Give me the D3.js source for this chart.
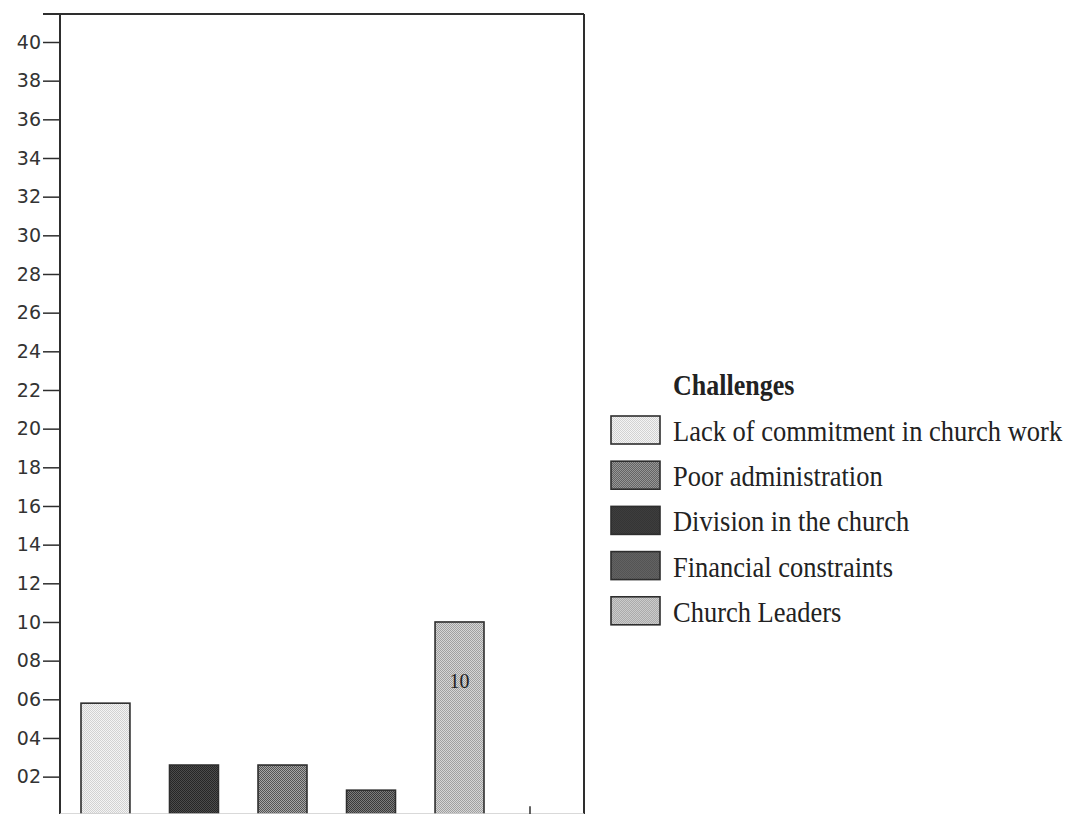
<!DOCTYPE html>
<html>
<head>
<meta charset="utf-8">
<script src="https://cdn.jsdelivr.net/npm/d3@7"></script>
<style>
  html, body { margin: 0; padding: 0; background: #fff; }
  svg { display: block; }
</style>
</head>
<body>
<svg id="chart" width="1070" height="814"></svg>
<script>
// Challenges faced by the church (bar order as plotted)
const barCategories = [
  "Lack of commitment in church work",
  "Division in the church",
  "Poor administration",
  "Financial constraints",
  "Church Leaders"
];
const barValues = [5.8, 2.6, 2.6, 1.3, 10];

// Legend order
const legendCategories = [
  "Lack of commitment in church work",
  "Poor administration",
  "Division in the church",
  "Financial constraints",
  "Church Leaders"
];
const legendTitle = "Challenges";

// Y axis ticks and their printed labels
const yTickValues = [2, 4, 6, 8, 10, 12, 14, 16, 18, 20, 22, 24, 26, 28, 30, 32, 34, 36, 38, 40];
const yTickLabels = ["02", "04", "06", "08", "10", "12", "14", "16", "18", "20",
                     "22", "24", "26", "28", "30", "32", "34", "36", "38", "40"];

// Only the last bar carries a printed value
const labelledBars = ["Church Leaders"];

// Dithered grey fills: [light dot, dark dot]
const shades = {
  "Lack of commitment in church work": ["#f4f4f4", "#d2d2d2"],
  "Poor administration": ["#a6a6a6", "#545454"],
  "Division in the church": ["#4c4c4c", "#262626"],
  "Financial constraints": ["#7c7c7c", "#3a3a3a"],
  "Church Leaders": ["#d6d6d6", "#a0a0a0"]
};

const svg = d3.select("#chart");
const defs = svg.append("defs");

const patternId = d => "pat-" + d.replace(/\s+/g, "-");
Object.entries(shades).forEach(([name, [c1, c2]]) => {
  const p = defs.append("pattern")
    .attr("id", patternId(name))
    .attr("width", 2).attr("height", 2)
    .attr("patternUnits", "userSpaceOnUse");
  p.append("rect").attr("width", 2).attr("height", 2).attr("fill", c1);
  p.append("rect").attr("x", 0).attr("y", 0).attr("width", 1).attr("height", 1).attr("fill", c2);
  p.append("rect").attr("x", 1).attr("y", 1).attr("width", 1).attr("height", 1).attr("fill", c2);
});

// Plot frame
const axisX = 60, frameTop = 14, frameRight = 584, frameBottom = 814;
const tickLen = 17;

const y = d3.scaleLinear().domain([0, 40]).range([815.3, 42]);

const x = d3.scaleBand()
  .domain(barCategories)
  .range([81, 484])
  .paddingInner(0.447)
  .paddingOuter(0);

const ink = "#2e2e2e";

// Bars
const bars = svg.append("g");
bars.selectAll("rect")
  .data(barCategories)
  .join("rect")
  .attr("x", d => x(d))
  .attr("y", (d, i) => y(barValues[i]))
  .attr("width", x.bandwidth())
  .attr("height", (d, i) => y(0) - y(barValues[i]))
  .attr("fill", d => `url(#${patternId(d)})`)
  .attr("stroke", ink)
  .attr("stroke-width", 1.6);

// Value label inside the labelled bar
bars.selectAll("text")
  .data(barCategories.map((d, i) => ({ d, v: barValues[i] })).filter(o => labelledBars.includes(o.d)))
  .join("text")
  .attr("x", o => x(o.d) + x.bandwidth() / 2)
  .attr("y", o => y(o.v) + 66)
  .attr("text-anchor", "middle")
  .attr("font-family", "Liberation Serif, Times New Roman, serif")
  .attr("font-size", 20)
  .attr("fill", "#222")
  .text(o => o.v);

// Y axis
const yAxis = d3.axisLeft(y)
  .tickValues(yTickValues)
  .tickFormat((d, i) => yTickLabels[i])
  .tickSize(tickLen)
  .tickPadding(2);

const gy = svg.append("g")
  .attr("transform", `translate(${axisX},0)`)
  .call(yAxis);
gy.select(".domain").remove();
gy.selectAll(".tick line").attr("stroke", ink).attr("stroke-width", 1.5);
gy.selectAll(".tick text")
  .attr("font-family", "DejaVu Sans, sans-serif")
  .attr("font-size", 19)
  .attr("fill", "#333");

// Frame lines
const frame = svg.append("g").attr("stroke", ink).attr("stroke-width", 2).attr("fill", "none");
frame.append("line").attr("x1", axisX - tickLen).attr("x2", frameRight).attr("y1", frameTop).attr("y2", frameTop);
frame.append("line").attr("x1", axisX).attr("x2", axisX).attr("y1", frameTop).attr("y2", frameBottom);
frame.append("line").attr("x1", frameRight).attr("x2", frameRight).attr("y1", frameTop).attr("y2", frameBottom);
// baseline and its end tick
svg.append("line").attr("x1", axisX).attr("x2", frameRight).attr("y1", y(0) - 1.5).attr("y2", y(0) - 1.5)
  .attr("stroke", "#ccc").attr("stroke-width", 1.2);
svg.append("line").attr("x1", 530).attr("x2", 530).attr("y1", y(0) - 9).attr("y2", y(0))
  .attr("stroke", ink).attr("stroke-width", 1.5);

// Legend
const legend = svg.append("g").attr("transform", "translate(611,0)");
legend.append("text")
  .attr("x", 62).attr("y", 0)
  .attr("transform", "translate(0,395) scale(1,1.12)")
  .attr("font-family", "Liberation Serif, Times New Roman, serif")
  .attr("font-weight", "bold")
  .attr("font-size", 26)
  .attr("fill", "#222")
  .text(legendTitle);

const rowStep = 45.2, firstBaseline = 441;
const items = legend.selectAll("g.item")
  .data(legendCategories)
  .join("g")
  .attr("class", "item")
  .attr("transform", (d, i) => `translate(0,${firstBaseline + i * rowStep})`);

items.append("rect")
  .attr("x", 0).attr("y", -25)
  .attr("width", 49).attr("height", 28)
  .attr("fill", d => `url(#${patternId(d)})`)
  .attr("stroke", ink)
  .attr("stroke-width", 1.6);

items.append("text")
  .attr("x", 62).attr("y", 0)
  .attr("transform", "scale(1,1.12)")
  .attr("font-family", "Liberation Serif, Times New Roman, serif")
  .attr("font-size", 26.5)
  .attr("fill", "#222")
  .text(d => d);
</script>
</body>
</html>
